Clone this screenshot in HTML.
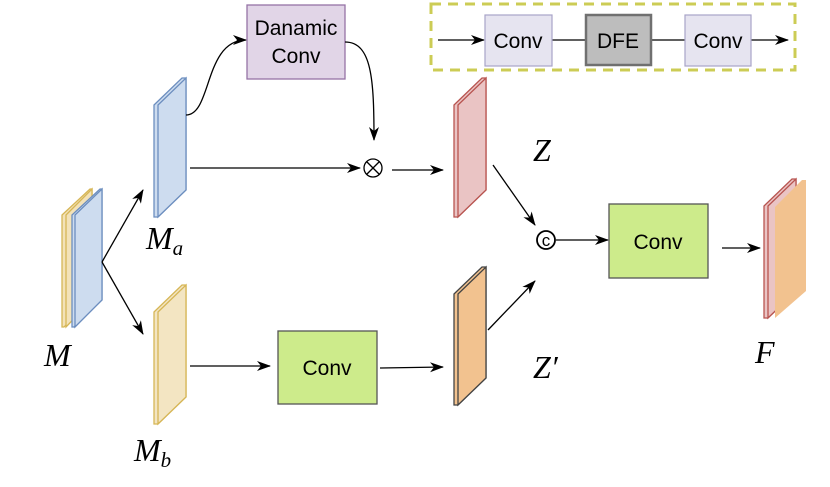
<!DOCTYPE html>
<html><head><style>body{margin:0;background:#fff}svg{display:block}</style></head><body>
<svg width="830" height="487" viewBox="0 0 830 487" xmlns="http://www.w3.org/2000/svg">
<defs><marker id="a" markerWidth="14" markerHeight="12" refX="13" refY="6" orient="auto" markerUnits="userSpaceOnUse"><path d="M0,1 L14,6 L0,11 L4,6z" fill="#000"/></marker></defs>
<g font-family="Liberation Sans, sans-serif" font-size="21" text-anchor="middle">
<rect x="431" y="4" width="364" height="66" fill="none" stroke="#cccc55" stroke-width="3" stroke-dasharray="10,7"/>
<line x1="438" y1="40" x2="484" y2="40" stroke="#000" stroke-width="1.3" marker-end="url(#a)"/>
<line x1="552" y1="40" x2="586" y2="40" stroke="#000" stroke-width="1.3"/>
<line x1="651" y1="40" x2="685" y2="40" stroke="#000" stroke-width="1.3"/>
<line x1="751" y1="40" x2="788" y2="40" stroke="#000" stroke-width="1.3" marker-end="url(#a)"/>
<rect x="485" y="15" width="67" height="51" fill="#e6e4f0" stroke="#a8a4c8" stroke-width="1.2"/>
<text x="518" y="48">Conv</text>
<rect x="586" y="15" width="65" height="50" fill="#bdbdbd" stroke="#707070" stroke-width="2.5"/>
<text x="618" y="48">DFE</text>
<rect x="685" y="15" width="66" height="51" fill="#e6e4f0" stroke="#a8a4c8" stroke-width="1.2"/>
<text x="718" y="48">Conv</text>
<rect x="247" y="5" width="98" height="74" fill="#e1d5e7" stroke="#9673a6" stroke-width="1.3"/>
<text x="296" y="35">Danamic</text><text x="296" y="63">Conv</text>
<polygon points="62,215 90,189 92,189 92,300 64,327 62,327" fill="#f3e2b8" stroke="#d6b656" stroke-width="1.3"/>
<polygon points="66,215 92,189 92,300 66,327" fill="#f3e2b8" stroke="#d6b656" stroke-width="1.3"/>
<polygon points="72,215 100,189 102,189 102,300 74,327 72,327" fill="#cddcef" stroke="#6c8ebf" stroke-width="1.3"/>
<polygon points="75,215 102,189 102,300 75,327" fill="#cddcef" stroke="#6c8ebf" stroke-width="1.3"/>
<polygon points="154,105 182,78 186,78 186,190 158,217 154,217" fill="#cddcef" stroke="#6c8ebf" stroke-width="1.3"/>
<polygon points="158,105 186,78 186,190 158,217" fill="#cddcef" stroke="#6c8ebf" stroke-width="1.3"/>
<polygon points="154,312 182,285 186,285 186,397 158,424 154,424" fill="#f3e5c2" stroke="#d6b656" stroke-width="1.3"/>
<polygon points="158,312 186,285 186,397 158,424" fill="#f3e5c2" stroke="#d6b656" stroke-width="1.3"/>
<polygon points="454,105 482,78 486,78 486,190 458,217 454,217" fill="#eac4c4" stroke="#b85450" stroke-width="1.3"/>
<polygon points="458,105 486,78 486,190 458,217" fill="#eac4c4" stroke="#b85450" stroke-width="1.3"/>
<polygon points="454,294 482,267 486,267 486,378 458,405 454,405" fill="#f2c28f" stroke="#444" stroke-width="1.3"/>
<polygon points="458,294 486,267 486,378 458,405" fill="#f2c28f" stroke="#444" stroke-width="1.3"/>
<polygon points="764,206 792,179 796,179 796,291 768,318 764,318" fill="#eac4c4" stroke="#b85450" stroke-width="1.3"/>
<polygon points="768,206 796,179 796,291 768,318" fill="#eac4c4" stroke="#b85450" stroke-width="1.3"/>
<polygon points="775,207 802,180 806,180 806,291 775,318" fill="#f2c28f"/>
<rect x="278" y="331" width="99" height="73" fill="#cdeb8b" stroke="#555" stroke-width="1.3"/>
<text x="327" y="375">Conv</text>
<rect x="609" y="204" width="99" height="74" fill="#cdeb8b" stroke="#555" stroke-width="1.3"/>
<text x="658" y="249">Conv</text>
<g stroke="#000" stroke-width="1.3" fill="none">
<line x1="102" y1="262" x2="143" y2="190" marker-end="url(#a)"/>
<line x1="102" y1="262" x2="143" y2="334" marker-end="url(#a)"/>
<path d="M186,115 C212,115 204,40 246,40" marker-end="url(#a)"/>
<path d="M345,42 C372,42 374,80 374,140" marker-end="url(#a)"/>
<line x1="190" y1="168" x2="360" y2="168" marker-end="url(#a)"/>
<line x1="392" y1="170" x2="443" y2="170" marker-end="url(#a)"/>
<line x1="493" y1="165" x2="535" y2="225" marker-end="url(#a)"/>
<line x1="488" y1="330" x2="535" y2="281" marker-end="url(#a)"/>
<line x1="556" y1="240" x2="608" y2="240" marker-end="url(#a)"/>
<line x1="722" y1="248" x2="760" y2="248" marker-end="url(#a)"/>
<line x1="190" y1="366" x2="270" y2="366" marker-end="url(#a)"/>
<line x1="380" y1="368" x2="443" y2="367" marker-end="url(#a)"/>
<circle cx="373" cy="168" r="9"/>
<line x1="367" y1="162" x2="379" y2="174"/><line x1="379" y1="162" x2="367" y2="174"/>
<circle cx="546" cy="240" r="9" stroke-width="1.8"/>
</g>
<text x="546" y="246" font-size="17">c</text>
</g>
<g font-family="Liberation Serif, serif" font-style="italic" font-size="32">
<text x="44" y="366">M</text>
<text x="146" y="249">M<tspan font-size="21" dy="6">a</tspan></text>
<text x="134" y="461">M<tspan font-size="21" dy="6">b</tspan></text>
<text x="533" y="161">Z</text>
<text x="533" y="378">Z′</text>
<text x="755" y="363">F</text>
</g>
</svg>
</body></html>
